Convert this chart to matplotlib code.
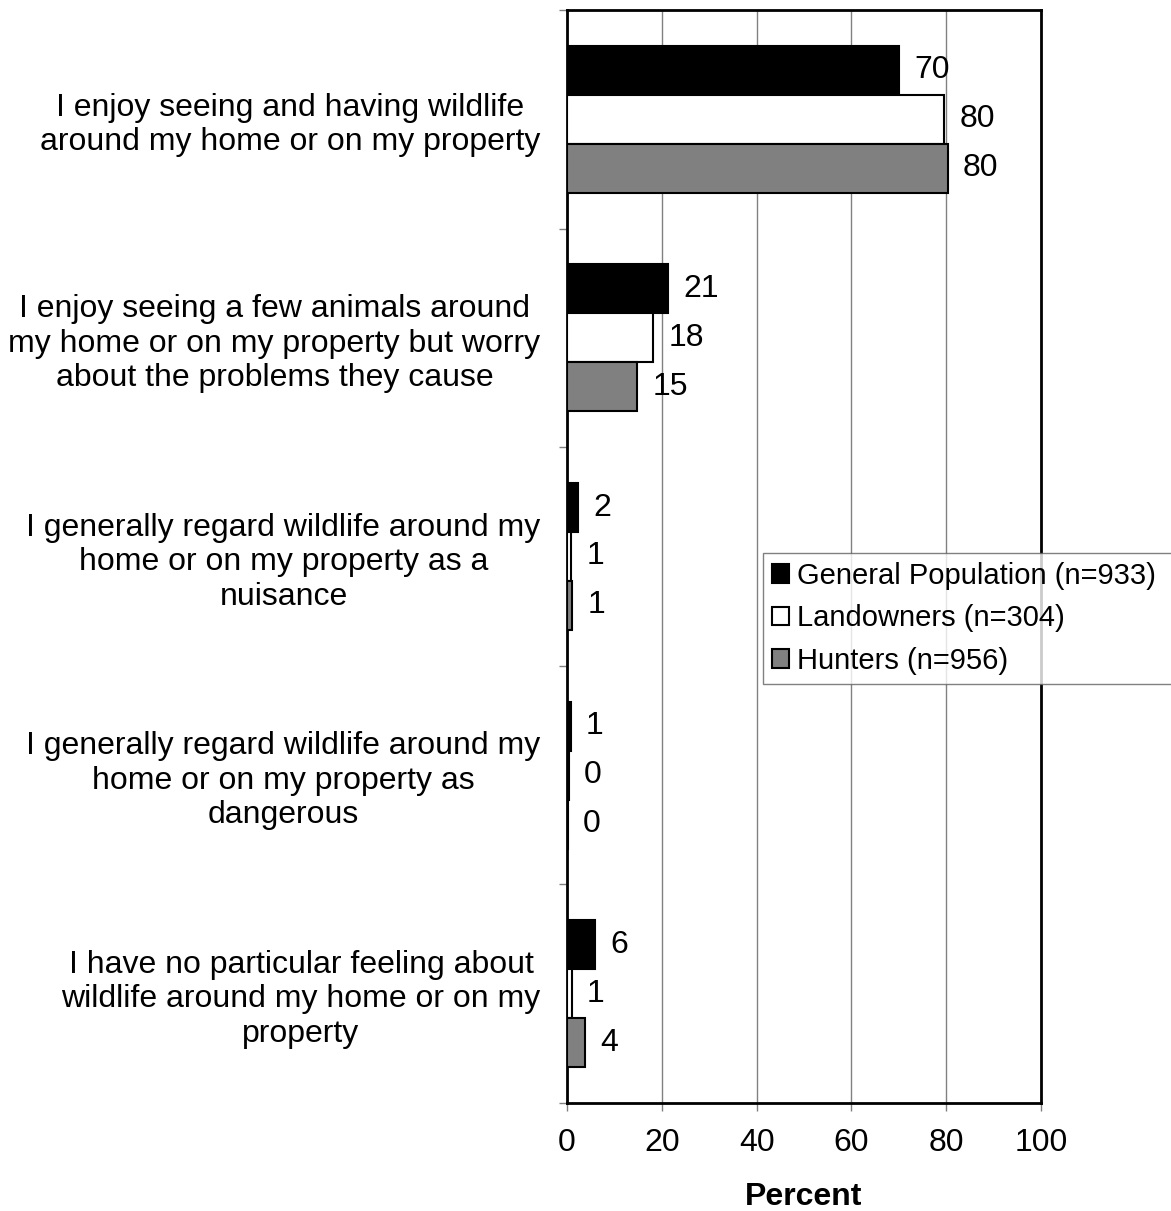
import matplotlib
matplotlib.use("Agg")
import matplotlib.pyplot as plt
import numpy as np

categories = [
    "I enjoy seeing and having wildlife\naround my home or on my property",
    "I enjoy seeing a few animals around\nmy home or on my property but worry\nabout the problems they cause",
    "I generally regard wildlife around my\nhome or on my property as a\nnuisance",
    "I generally regard wildlife around my\nhome or on my property as\ndangerous",
    "I have no particular feeling about\nwildlife around my home or on my\nproperty",
]
series_names = ["General Population (n=933)", "Landowners (n=304)", "Hunters (n=956)"]
general_population = [70.0, 21.4, 2.4, 0.8, 5.9]
landowners = [79.6, 18.2, 0.9, 0.4, 1.0]
hunters = [80.3, 14.8, 1.1, 0.2, 3.8]
x_ticks = [0, 20, 40, 60, 80, 100]

plt.rcParams['font.family'] = ['Liberation Sans', 'DejaVu Sans']
FS = 23
LFS = 21

W, H = 1171, 1211
fig = plt.figure(figsize=(W / 100, H / 100), dpi=100)
ax = fig.add_axes([567 / W, 1 - 1103 / H, (1041 - 567) / W, (1103 - 10) / H])

n = len(categories)
ypos = np.arange(n)[::-1].astype(float)
h = 0.224
colors = ["black", "white", "#808080"]
series = [general_population, landowners, hunters]
offsets = [h, 0, -h]
for vals, c, off, name in zip(series, colors, offsets, series_names):
    bars = ax.barh(ypos + off, vals, height=h, color=c, edgecolor="black",
                   linewidth=1.5, label=name, zorder=3)
    ax.bar_label(bars, labels=[f"{round(v):d}" for v in vals], padding=11,
                 fontsize=FS, zorder=4)

ax.set_xlim(0, 100)
ax.set_ylim(-0.5, n - 0.5)
ax.set_xticks(x_ticks)
ax.set_xticklabels([str(t) for t in x_ticks], fontsize=FS)
ax.tick_params(axis='x', direction='out', length=6, width=1, color='#808080', pad=12)
ax.xaxis.grid(True, color='#808080', linewidth=1, zorder=0)

ax.set_yticks(np.arange(n + 1) - 0.5)
ax.set_yticklabels([])
ax.tick_params(axis='y', which='major', direction='out', length=6, width=1, color='#808080')
ax.set_yticks(ypos, minor=True)
ax.set_yticklabels(categories, minor=True, fontsize=FS, ha='right',
                   multialignment='center')
ax.tick_params(axis='y', which='minor', length=0, pad=19)

for s in ax.spines.values():
    s.set_color('black')
    s.set_linewidth(2)

ax.set_xlabel("Percent", fontsize=FS, fontweight='bold', labelpad=17)

leg = fig.legend(loc='upper left', bbox_to_anchor=(763 / W, 1 - 553 / H, 430 / W, 0),
                 mode='expand',
                 fontsize=LFS, frameon=True, fancybox=False, edgecolor='#606060',
                 handlelength=0.6, handleheight=0.6, handletextpad=0.25,
                 labelspacing=0.5, borderpad=0.3, borderaxespad=0)
leg.get_frame().set_linewidth(1)

fig.savefig("out.png", dpi=100)
